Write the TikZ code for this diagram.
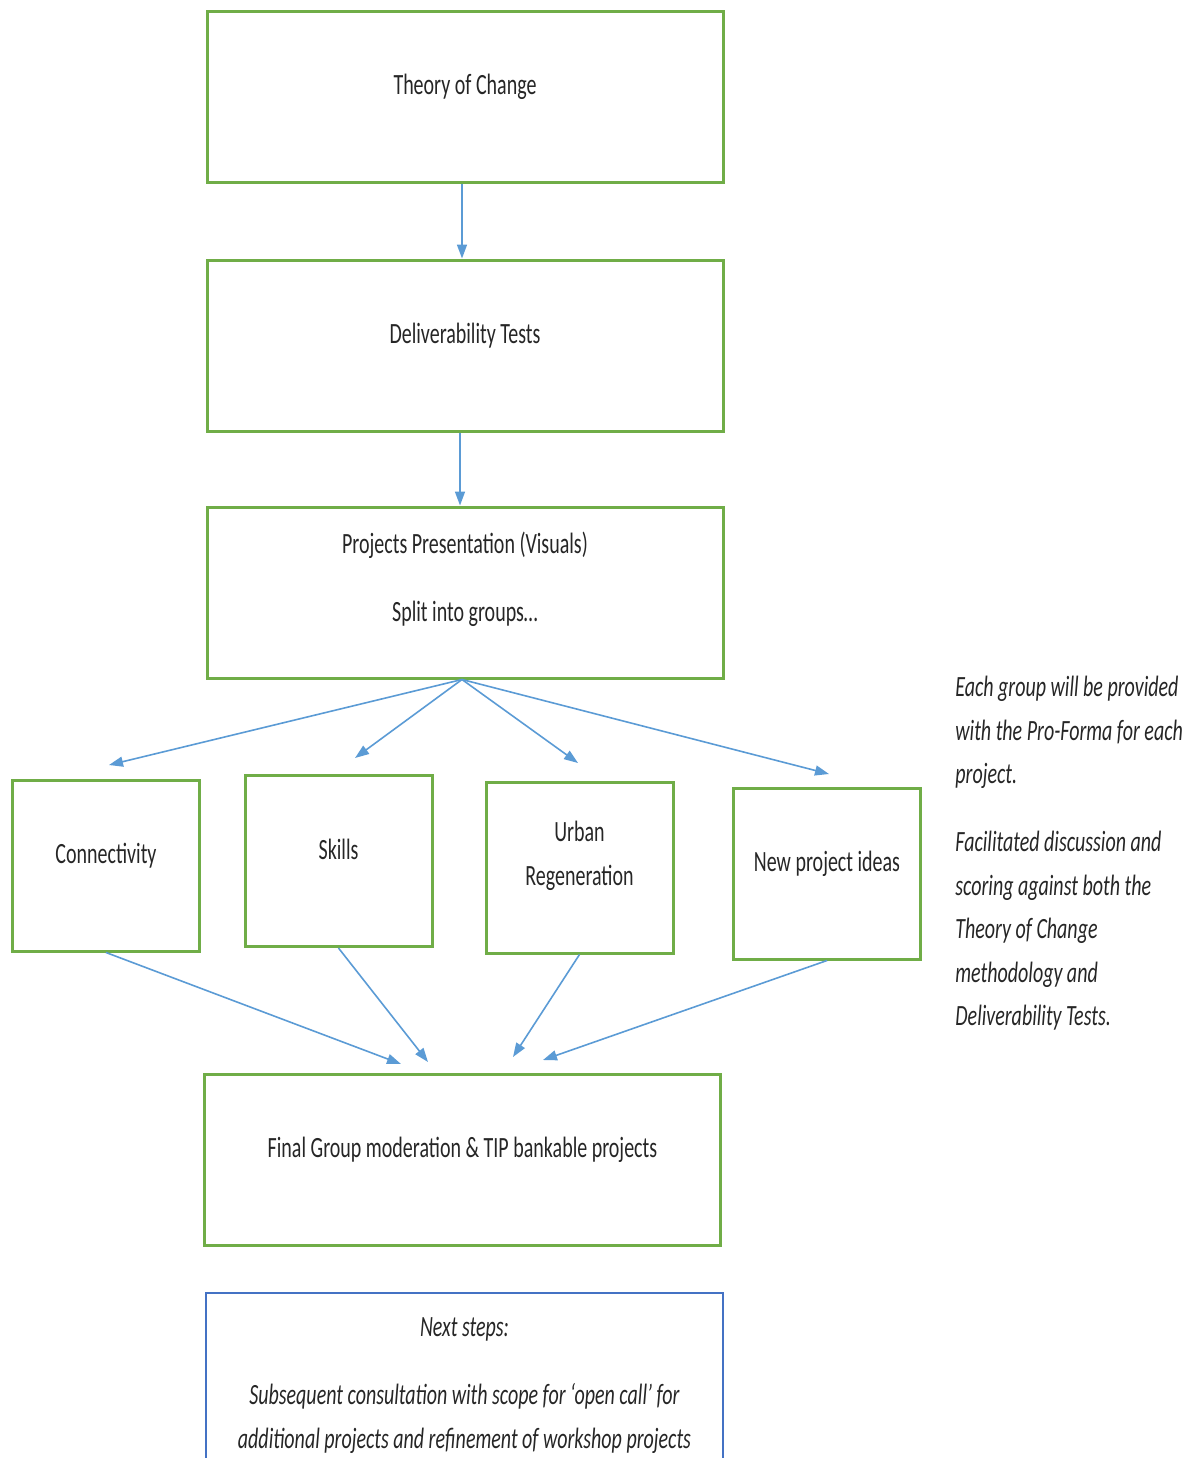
\documentclass[tikz,border=0pt]{standalone}
\usepackage{fontspec}
\setmainfont{Carlito}[FakeStretch=0.68]
\usetikzlibrary{positioning,arrows.meta}
\definecolor{boxgreen}{HTML}{70AD47}
\definecolor{linkblue}{HTML}{5B9BD5}
\definecolor{nextblue}{HTML}{4472C4}
\newcommand{\bodyfont}{\fontsize{14.7}{21.75}\selectfont}
\newcommand{\droppad}[1]{\rule[-#1]{0pt}{#1}}

\begin{document}
\begin{tikzpicture}[x=0.5pt, y=-0.5pt, b/.style={draw=boxgreen, line width=1.5pt, minimum width=258pt, minimum height=85.5pt, align=center, font=\bodyfont, text=black!85}, g/.style={b, minimum width=93.5pt}, it/.style={font=\bodyfont\itshape, text=black!85}, l/.style={draw=linkblue, line width=0.8pt, -{Triangle[length=7pt,width=5pt]}}]
		\useasboundingbox (0,0) rectangle (1202,1458);

		\node[b] (toc) at (465,96.5) {Theory of Change\droppad{12pt}};
		\node[b, below=37.5pt of toc] (deliv) {Deliverability Tests\droppad{12pt}};
		\node[b, below=36.5pt of deliv] (pres) {Projects Presentation (Visuals)\\[12.25pt] Split into groups\ldots\droppad{16pt}};

		\node[g] (conn) at (106,865.5) {Connectivity\droppad{12pt}};
		\node[g] (skills) at (338.5,861) {Skills\droppad{12pt}};
		\node[g] (urban) at (579.5,867.5) {Urban\\ Regeneration\droppad{14pt}};
		\node[g] (newp) at (827,873.5) {New project ideas\droppad{12pt}};

		\node[b] (final) at (462.5,1159.5) {Final Group moderation \& TIP bankable projects\droppad{12pt}};

		\node[it, draw=nextblue, line width=1pt, minimum width=258.5pt, anchor=north, inner ysep=12.5pt, align=center] (next) at (464.5,1292) {Next steps:\\[12.25pt] Subsequent consultation with scope for ‘open call’ for\\ additional projects and refinement of workshop projects\droppad{40pt}};

		\node[it, anchor=north west, inner sep=0pt, align=left] (notes) at (955,676) {Each group will be provided\\ with the Pro-Forma for each\\ project.\\[12.25pt] Facilitated discussion and\\ scoring against both the\\ Theory of Change\\ methodology and\\ Deliverability Tests.};

		\coordinate (s1) at (109,765);
		\coordinate (s2) at (355,758);
		\coordinate (s3) at (578,763);
		\coordinate (s4) at (829,774);
		\coordinate (f1) at (401,1064);
		\coordinate (f2) at (428,1062);
		\coordinate (f3) at (513,1057);
		\coordinate (f4) at (543,1060);

		\draw[l] ([xshift=-1.5pt]toc.south) -- ([xshift=-1.5pt]deliv.north);
		\draw[l] ([xshift=-2.5pt]deliv.south) -- ([xshift=-2.5pt]pres.north);
		\foreach \t in {s1,s2,s3,s4}
			\draw[l] ([xshift=-1.5pt]pres.south) -- (\t);
		\foreach \n/\t in {conn/f1, skills/f2, urban/f3, newp/f4}
			\draw[l] (\n.south) -- (\t);
	\end{tikzpicture}
\end{document}
